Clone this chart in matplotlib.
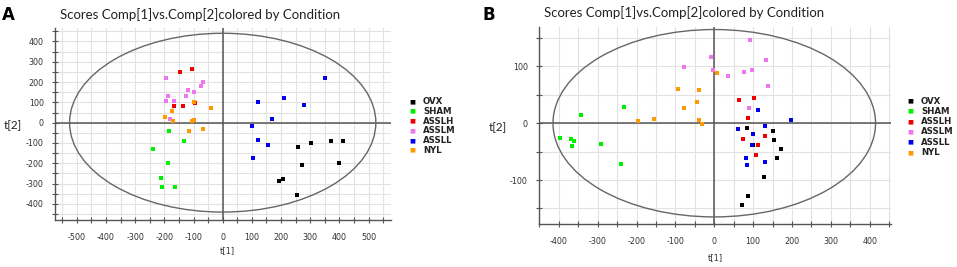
import numpy as np
import matplotlib
matplotlib.use("Agg")
import matplotlib.pyplot as plt
from matplotlib.patches import Ellipse
from matplotlib.ticker import MultipleLocator

groups = ["OVX", "SHAM", "ASSLH", "ASSLM", "ASSLL", "NYL"]
colors = ["#000000", "#00ee00", "#ee0000", "#ee77ee", "#0000ee", "#ff9900"]

# Panel A scores (t[1], t[2])
a_ovx_x = [257, 302, 370, 411, 271, 399, 194, 208, 254]
a_ovx_y = [-118, -102, -90, -90, -207, -197, -285, -279, -356]
a_sham_x = [-183, -134, -240, -189, -210, -208, -165]
a_sham_y = [-39, -90, -128, -197, -274, -315, -318]
a_asslh_x = [-146, -106, -167, -136, -94]
a_asslh_y = [248, 264, 80, 80, 95]
a_asslm_x = [-195, -67, -73, -120, -99, -126, -187, -195, -167, -182]
a_asslm_y = [221, 198, 180, 159, 151, 130, 130, 105, 108, 16]
a_assll_x = [350, 209, 120, 279, 169, 101, 122, 155, 105]
a_assll_y = [221, 123, 103, 85, 16, -15, -87, -110, -175]
a_nyl_x = [-97, -41, -173, -199, -170, -107, -97, -67, -117]
a_nyl_y = [103, 70, 57, 26, 8, 10, 15, -31, -43]

# Panel B scores (t[1], t[2])
b_ovx_x = [84, 150, 153, 173, 161, 128, 88, 71, 99]
b_ovx_y = [-8, -14, -29, -45, -61, -94, -128, -144, -38]
b_sham_x = [-397, -369, -362, -367, -344, -291, -233, -239]
b_sham_y = [-26, -28, -31, -40, 14, -36, 29, -71]
b_asslh_x = [64, 103, 87, 74, 131, 113, 107]
b_asslh_y = [41, 44, 9, -28, -22, -39, -56]
b_asslm_x = [92, 134, -9, -77, -2, 36, 76, 96, 137, 90]
b_asslm_y = [146, 112, 116, 99, 93, 84, 90, 93, 66, 27]
b_assll_x = [112, 198, 62, 131, 100, 97, 82, 84, 131]
b_assll_y = [23, 5, -10, -5, -19, -39, -61, -74, -68]
b_nyl_x = [8, -94, -39, -44, -77, -197, -154, -39, -32]
b_nyl_y = [88, 61, 58, 37, 26, 4, 7, 5, -2]

a_data = [(a_ovx_x, a_ovx_y), (a_sham_x, a_sham_y), (a_asslh_x, a_asslh_y),
          (a_asslm_x, a_asslm_y), (a_assll_x, a_assll_y), (a_nyl_x, a_nyl_y)]
b_data = [(b_ovx_x, b_ovx_y), (b_sham_x, b_sham_y), (b_asslh_x, b_asslh_y),
          (b_asslm_x, b_asslm_y), (b_assll_x, b_assll_y), (b_nyl_x, b_nyl_y)]

a_ticks_x = list(range(-500, 501, 100))
a_ticks_y = list(range(-400, 401, 100))
b_ticks_x = list(range(-400, 401, 100))
b_ticks_y = [-100, 0, 100]

plt.rcParams['font.family'] = ['DejaVu Sans']
plt.rcParams['axes.unicode_minus'] = False

fig = plt.figure(figsize=(9.57, 2.67), dpi=100)

title = "Scores Comp[1]vs.Comp[2]colored by Condition"


def fx(px):
    return px / 957


def fy(py):
    return 1 - py / 267


def panel(rect, data, xlim, ylim, xt, yt, ell, legend_xy, letter_xy, title_xy,
          t2_xy, t1_xy):
    ax = fig.add_axes(rect)
    ax.set_xlim(*xlim)
    ax.set_ylim(*ylim)
    ax.set_xticks(xt)
    ax.set_yticks(yt)
    ax.xaxis.set_minor_locator(MultipleLocator(50))
    ax.yaxis.set_minor_locator(MultipleLocator(50))
    ax.grid(True, which='both', color='#e2e2e2', lw=0.8, zorder=0)
    ax.set_axisbelow(True)
    for s in ['top', 'right']:
        ax.spines[s].set_visible(False)
    for s in ['left', 'bottom']:
        ax.spines[s].set_color('#555555')
        ax.spines[s].set_linewidth(1.0)
    ax.tick_params(which='both', direction='inout', length=4, color='#555555',
                   width=0.8)
    ax.tick_params(axis='x', which='major', labelsize=5.8, labelcolor='#333333', pad=7)
    ax.tick_params(axis='y', which='major', labelsize=5.8, labelcolor='#333333', pad=6)
    ax.axhline(0, color='#555555', lw=1.1, zorder=1)
    ax.axvline(0, color='#555555', lw=1.1, zorder=1)
    ax.add_patch(Ellipse((0, 0), 2 * ell[0], 2 * ell[1], fill=False,
                         edgecolor='#666666', lw=1.0, zorder=2))
    for (xs, ys), c in zip(data, colors):
        ax.scatter(xs, ys, s=11, marker='s', color=c, linewidths=0, zorder=3)
    # legend
    lx, ly, dy = legend_xy
    for i, (g, c) in enumerate(zip(groups, colors)):
        y = ly - i * dy
        fig.text(lx, y, '\u25A0', color=c, fontsize=4.5, ha='center', va='center')
        fig.text(lx + 11 / 957, y, g, color='#222222', fontsize=6.2,
                 fontweight='bold', ha='left', va='center')
    fig.text(letter_xy[0], letter_xy[1], letter_xy[2], fontsize=12,
             fontweight='bold', ha='left', va='center')
    fig.text(title_xy[0], title_xy[1], title, fontsize=9.5, ha='left',
             va='center', color='#222222', family=['Lato', 'DejaVu Sans'])
    fig.text(t2_xy[0], t2_xy[1], 't[2]', fontsize=8.5, ha='center', va='center',
             color='#222222', family=['Lato', 'DejaVu Sans'])
    fig.text(t1_xy[0], t1_xy[1], 't[1]', fontsize=6, ha='center', va='center',
             color='#333333')
    return ax


panel([fx(55), fy(220), fx(391 - 55), (220 - 28) / 267], a_data,
      (-575, 577), (-479, 466), a_ticks_x, a_ticks_y, (525, 440),
      (fx(412), fy(101.7), 9.7 / 267), (fx(2), fy(15), 'A'),
      (fx(60), fy(15)), (fx(13), fy(126)), (fx(227), fy(251)))

panel([fx(539), fy(224.3), fx(890.7 - 539), (224.3 - 26.7) / 267], b_data,
      (-451, 454), (-178, 170), b_ticks_x, b_ticks_y, (415, 165),
      (fx(910), fy(101), 10.3 / 267), (fx(483), fy(15), 'B'),
      (fx(544), fy(13)), (fx(498), fy(128)), (fx(715), fy(258)))

fig.savefig("out.png", dpi=100)
